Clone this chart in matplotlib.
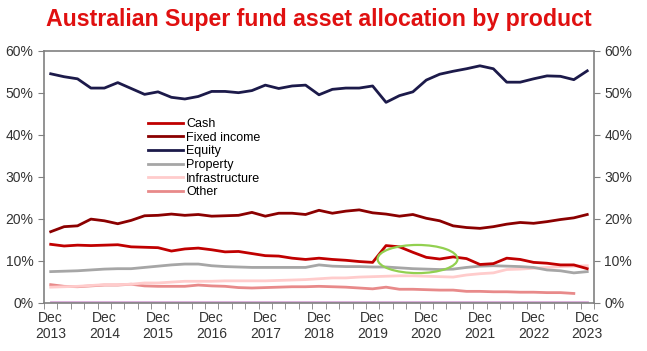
import numpy as np
import matplotlib.pyplot as plt
from matplotlib.patches import Ellipse

plt.rcParams['font.family'] = ['Liberation Sans', 'DejaVu Sans']

# quarterly data, Dec 2013 .. Dec 2023 (41 quarters), % of assets
years = [str(y) for y in range(2013, 2024)]
cash = [13.9, 13.5, 13.7, 13.6, 13.7, 13.8, 13.3, 13.2, 13.1, 12.3, 12.8, 13.0, 12.6, 12.1,
        12.2, 11.7, 11.2, 11.1, 10.6, 10.3, 10.6, 10.3, 10.1, 9.8, 9.6, 13.6, 13.3, 12.0,
        10.8, 10.4, 10.9, 10.5, 9.1, 9.3, 10.6, 10.3, 9.6, 9.4, 9.0, 9.0, 8.1]
fixed_income = [16.9, 18.1, 18.3, 19.9, 19.5, 18.8, 19.6, 20.7, 20.8, 21.1, 20.8, 21.0, 20.6, 20.7,
                20.8, 21.5, 20.6, 21.3, 21.3, 21.0, 22.0, 21.3, 21.8, 22.1, 21.4, 21.1, 20.6, 21.0,
                20.1, 19.5, 18.3, 17.9, 17.7, 18.1, 18.7, 19.1, 18.9, 19.3, 19.8, 20.2, 21.0]
equity = [54.5, 53.8, 53.3, 51.1, 51.1, 52.4, 51.0, 49.6, 50.2, 48.9, 48.5, 49.1, 50.3, 50.3,
          50.0, 50.5, 51.8, 51.0, 51.6, 51.8, 49.5, 50.8, 51.1, 51.1, 51.6, 47.7, 49.3, 50.2,
          53.0, 54.4, 55.1, 55.7, 56.4, 55.7, 52.5, 52.5, 53.3, 54.0, 53.9, 53.1, 55.2]
prop = [7.4, 7.5, 7.6, 7.8, 8.0, 8.1, 8.1, 8.4, 8.7, 9.0, 9.2, 9.2, 8.8, 8.6,
        8.5, 8.4, 8.4, 8.4, 8.4, 8.4, 9.0, 8.7, 8.6, 8.6, 8.5, 8.5, 8.3, 8.1,
        8.0, 7.9, 8.0, 8.4, 8.7, 8.8, 8.7, 8.6, 8.4, 7.8, 7.6, 7.1, 7.4]
infra = [3.7, 3.8, 3.9, 4.1, 4.3, 4.3, 4.4, 4.7, 4.7, 4.9, 5.1, 5.1, 5.1, 5.2,
         5.2, 5.2, 5.2, 5.3, 5.4, 5.5, 5.7, 5.9, 5.9, 6.1, 6.2, 6.3, 6.4, 6.4,
         6.3, 6.2, 6.1, 6.6, 6.9, 7.1, 7.9, 8.0, 8.2, 8.4, 8.6, 8.7, 8.8]
other = [4.3, 3.9, 3.8, 4.0, 4.2, 4.2, 4.4, 4.0, 3.9, 3.9, 3.9, 4.2, 4.0, 3.9,
         3.6, 3.5, 3.6, 3.7, 3.8, 3.8, 3.9, 3.8, 3.7, 3.5, 3.3, 3.7, 3.2, 3.2,
         3.1, 3.0, 3.0, 2.7, 2.7, 2.6, 2.6, 2.5, 2.5, 2.4, 2.4, 2.2, np.nan]
misc = [0.1] * 41

x = np.arange(len(cash))

fig = plt.figure(figsize=(6.47, 3.51), dpi=100)
ax = fig.add_axes([0.068, 0.1376, 0.850, 0.718])

ax.plot(x, misc, color='#d8a8d8', lw=2)
ax.plot(x, other, color='#e88a8a', lw=2, label='Other')
ax.plot(x, infra, color='#ffcccc', lw=2, label='Infrastructure')
ax.plot(x, prop, color='#a6a6a6', lw=2, label='Property')
ax.plot(x, equity, color='#1c1a4a', lw=2, label='Equity')
ax.plot(x, fixed_income, color='#8b0000', lw=2, label='Fixed income')
ax.plot(x, cash, color='#c00000', lw=2, label='Cash')

ax.add_patch(Ellipse((27.35, 10.4), 5.96, 6.7, fill=False, ec='#92d050', lw=1.6, zorder=5))

ax.set_xlim(-0.5, 40.5)
ax.set_ylim(0, 60)
ax.set_yticks(range(0, 61, 10))
ax.set_yticklabels([f'{v}%' for v in range(0, 61, 10)])
ax.set_xticks(x[::4])
ax.set_xticklabels([f'Dec\n{y}' for y in years])
ax.set_xticks(np.arange(-0.5, 41, 1), minor=True)
ax.tick_params(axis='x', which='major', length=0, pad=6, labelsize=10, colors='#333333')
ax.tick_params(axis='x', which='minor', length=4, direction='out', color='#808080')
ax.tick_params(axis='y', length=4, labelsize=10, colors='#333333', color='#808080',
               left=True, right=True, labelleft=True, labelright=True)
for s in ax.spines.values():
    s.set_color('#808080')
    s.set_linewidth(1.2)

h, l = ax.get_legend_handles_labels()
ax.legend(h[::-1], l[::-1], loc='upper left', bbox_to_anchor=(148 / 647, 1 - 118 / 351),
          bbox_transform=fig.transFigure, frameon=False, fontsize=9, borderpad=0,
          borderaxespad=0, labelspacing=0.13, handlelength=2.8, handletextpad=0.25)

fig.text(0.492, 0.978, 'Australian Super fund asset allocation by product', ha='center', va='top',
         color='#e01010', fontsize=16.7, fontweight='bold')

fig.savefig('out.png', dpi=100)
